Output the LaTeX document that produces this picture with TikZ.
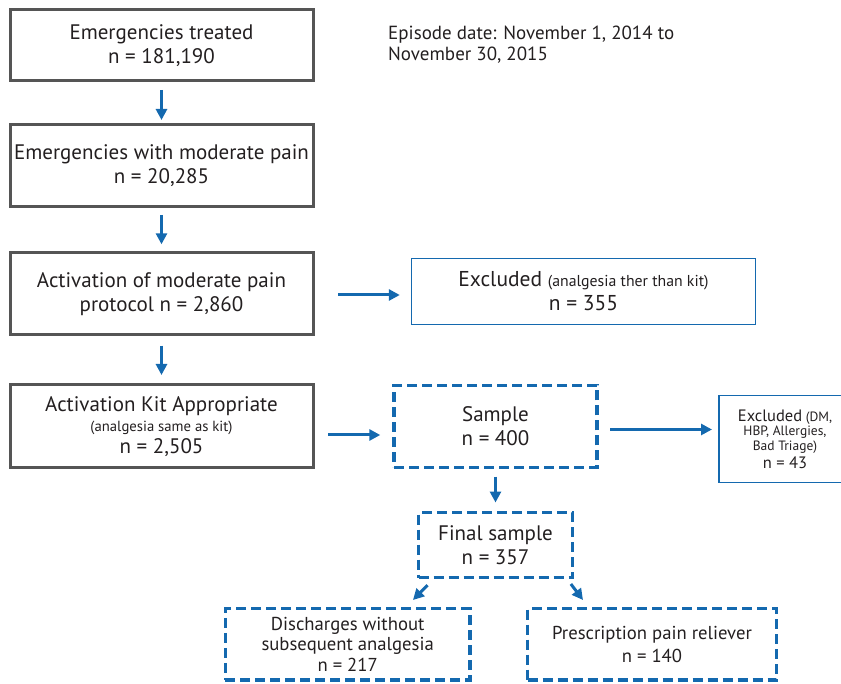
\documentclass[tikz,border=0pt]{standalone}
\usepackage{fontspec}
\setmainfont{PT Sans}
\usetikzlibrary{positioning,arrows.meta}
\definecolor{blu}{HTML}{1469AF}
\definecolor{boxgray}{HTML}{555555}
\definecolor{ink}{HTML}{231F20}
\newcommand{\bigtxt}{\fontsize{21}{24}\selectfont}
\newcommand{\midtxt}{\fontsize{18.7}{20.8}\selectfont}
\newcommand{\smtxt}{\fontsize{14.7}{21}\selectfont}
\begin{document}
\begin{tikzpicture}[x=1pt, y=-1pt, node distance = 45pt,
  main/.style = {draw=boxgray, line width=3pt, outer sep=0pt, minimum width=303pt, inner sep=0pt, align=center, text=ink, font=\bigtxt},
  thinbox/.style = {draw=blu, line width=1.3pt, outer sep=0pt, inner sep=0pt, align=center, text=ink},
  dashbox/.style = {draw=blu, line width=3.5pt, outer sep=0pt, dash pattern=on 10pt off 5pt, inner sep=0pt, align=center, text=ink},
  arr/.style = {draw=blu, line width=3pt, -{Triangle[length=11pt,width=11pt]}}]
  \useasboundingbox (0,0) rectangle (841,684);
          \node[main, minimum height=71pt] (1) at (161.5,45.5) {Emergencies treated\\n = 181,190};
          \node[main, minimum height=82pt] (2) [below = 44pt of 1] {Emergencies with moderate pain\\n = 20,285};
          \node[main, minimum height=82pt] (3) [below = 46pt of 2] {Activation of moderate pain\\protocol n = 2,860};
          \node[main, minimum height=83pt] (4) [below = 50pt of 3] {Activation Kit Appropriate\\[-4pt]{\smtxt (analgesia same as kit)}\\[-2pt]n = 2,505};
          \node[anchor=north west, align=left, text=ink, font=\fontsize{19}{21}\selectfont, inner sep=0pt] (0) at (388,26) {Episode date: November 1, 2014 to\\November 30, 2015};
          \node[thinbox, minimum width=344pt, minimum height=66pt, font=\fontsize{21.5}{24}\selectfont] (5) at (583.5,291.2) {Excluded {\fontsize{15.8}{21}\selectfont (analgesia ther than kit)}\\n = 355};
          \node[dashbox, minimum width=203pt, minimum height=82pt, font=\bigtxt] (6) [right = 81pt of 4] {Sample\\n = 400};
          \node[thinbox, minimum width=132pt, minimum height=86.5pt, font=\fontsize{13.5}{14.5}\selectfont] (7) at (785,439) {{\fontsize{16.5}{14.5}\selectfont Excluded} (DM,\\HBP, Allergies,\\Bad Triage)\\[2pt]{\fontsize{16.5}{14.5}\selectfont n = 43}};
          \node[dashbox, minimum width=154pt, minimum height=65pt, font=\bigtxt] (8) [below = 45pt of 6] {Final sample\\n = 357};
          \node[dashbox, minimum width=244.5pt, minimum height=71.6pt, font=\midtxt] (9) at (347.7,644.2) {Discharges without\\subsequent analgesia\\n = 217};
          \node[dashbox, minimum width=248.6pt, minimum height=71.6pt, font=\midtxt] (10) at (652,644.2) {Prescription pain reliever\\[2.5pt]n = 140};
          \draw[arr, shorten <=9pt, shorten >=5pt] (1) -- (2);
          \draw[arr, shorten <=8pt, shorten >=8.7pt] (2) -- (3);
          \draw[arr, shorten <=10.7pt, shorten >=10pt] (3) -- (4);
          \draw[arr, shorten <=25pt, shorten >=11.7pt] ([yshift=-1pt]3.east) -- ([yshift=-1pt]3.east -| 5.west);
          \draw[arr, shorten <=15pt, shorten >=13.7pt] ([yshift=-8.5pt]4.east) -- ([yshift=-8.5pt]4.east -| 6.west);
          \draw[arr, shorten <=13.4pt, shorten >=7pt] ([yshift=-3pt]6.east) -- ([yshift=-3pt]6.east -| 7.west);
          \draw[arr, shorten <=9pt, shorten >=10pt] (6) -- (8);
          \draw[arr] ([xshift=9pt, yshift=-7.7pt]8.south west) -- ([xshift=-57pt, yshift=8.4pt]9.north east);
          \draw[arr] ([xshift=-1.6pt, yshift=-6.5pt]8.south east) -- ([xshift=55.3pt, yshift=8.4pt]10.north west);
        \end{tikzpicture}
\end{document}
